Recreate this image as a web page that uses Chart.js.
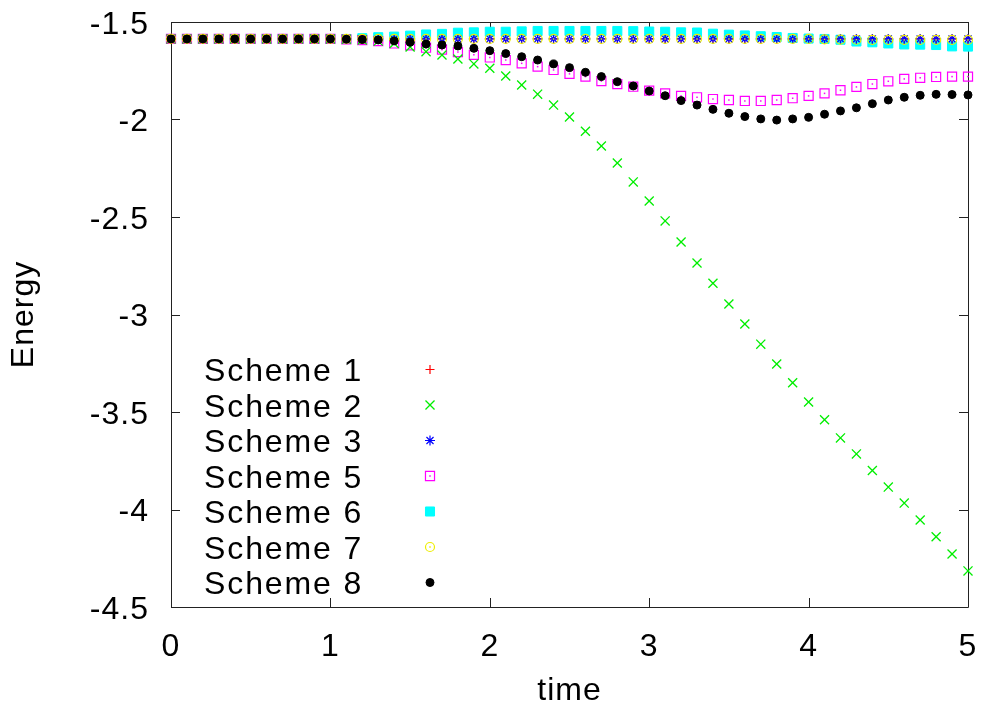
<!DOCTYPE html>
<html>
<head>
<meta charset="utf-8">
<script src="https://cdn.jsdelivr.net/npm/chart.js@4/dist/chart.umd.min.js"></script>
<style>
  html, body { margin: 0; padding: 0; background: #fff; }
  canvas { display: block; }
</style>
</head>
<body>
<canvas id="energy-chart" width="987" height="711"></canvas>
<script>
// time samples (x) for every scheme
const time = [
  0, 0.1, 0.2, 0.3, 0.4, 0.5, 0.6, 0.7, 0.8, 0.9,
  1, 1.1, 1.2, 1.3, 1.4, 1.5, 1.6, 1.7, 1.8, 1.9,
  2, 2.1, 2.2, 2.3, 2.4, 2.5, 2.6, 2.7, 2.8, 2.9,
  3, 3.1, 3.2, 3.3, 3.4, 3.5, 3.6, 3.7, 3.8, 3.9,
  4, 4.1, 4.2, 4.3, 4.4, 4.5, 4.6, 4.7, 4.8, 4.9,
  5
];

const scheme1 = [
  -1.587, -1.587, -1.587, -1.587, -1.587, -1.587, -1.587, -1.587, -1.587, -1.587,
  -1.587, -1.587, -1.587, -1.587, -1.587, -1.587, -1.587, -1.587, -1.587, -1.587,
  -1.587, -1.587, -1.587, -1.587, -1.587, -1.587, -1.587, -1.587, -1.587, -1.587,
  -1.587, -1.587, -1.587, -1.587, -1.587, -1.587, -1.587, -1.587, -1.587, -1.587,
  -1.587, -1.587, -1.587, -1.587, -1.587, -1.587, -1.587, -1.587, -1.587, -1.587,
  -1.587
];

const scheme2 = [
  -1.587, -1.587, -1.587, -1.587, -1.587, -1.587, -1.587, -1.587, -1.587, -1.587,
  -1.587, -1.588, -1.592, -1.598, -1.610, -1.628, -1.652, -1.669, -1.690, -1.715,
  -1.737, -1.777, -1.823, -1.870, -1.926, -1.987, -2.060, -2.136, -2.223, -2.320,
  -2.418, -2.520, -2.628, -2.736, -2.840, -2.946, -3.049, -3.152, -3.254, -3.350,
  -3.449, -3.540, -3.633, -3.715, -3.800, -3.885, -3.967, -4.054, -4.140, -4.228,
  -4.315
];

const scheme3 = [
  -1.587, -1.587, -1.587, -1.587, -1.587, -1.587, -1.587, -1.587, -1.587, -1.587,
  -1.587, -1.587, -1.587, -1.587, -1.587, -1.587, -1.587, -1.587, -1.587, -1.587,
  -1.587, -1.587, -1.587, -1.587, -1.587, -1.587, -1.587, -1.587, -1.587, -1.587,
  -1.587, -1.587, -1.587, -1.587, -1.587, -1.587, -1.587, -1.587, -1.587, -1.587,
  -1.587, -1.587, -1.587, -1.587, -1.587, -1.587, -1.587, -1.587, -1.587, -1.587,
  -1.587
];

const scheme5 = [
  -1.587, -1.587, -1.587, -1.587, -1.587, -1.587, -1.587, -1.587, -1.587, -1.587,
  -1.587, -1.589, -1.593, -1.598, -1.610, -1.620, -1.632, -1.642, -1.654, -1.668,
  -1.682, -1.695, -1.712, -1.729, -1.746, -1.766, -1.780, -1.803, -1.818, -1.832,
  -1.852, -1.866, -1.879, -1.886, -1.895, -1.900, -1.905, -1.905, -1.900, -1.891,
  -1.879, -1.866, -1.850, -1.833, -1.818, -1.804, -1.792, -1.786, -1.782, -1.780,
  -1.780
];

const scheme6 = [
  -1.587, -1.587, -1.587, -1.587, -1.587, -1.587, -1.587, -1.587, -1.587, -1.587,
  -1.587, -1.587, -1.583, -1.578, -1.575, -1.570, -1.564, -1.561, -1.555, -1.553,
  -1.550, -1.550, -1.548, -1.546, -1.546, -1.546, -1.546, -1.546, -1.546, -1.547,
  -1.549, -1.550, -1.553, -1.554, -1.560, -1.565, -1.569, -1.573, -1.577, -1.582,
  -1.585, -1.587, -1.591, -1.600, -1.604, -1.610, -1.615, -1.616, -1.618, -1.625,
  -1.626
];

const scheme7 = [
  -1.587, -1.587, -1.587, -1.587, -1.587, -1.587, -1.587, -1.587, -1.587, -1.587,
  -1.587, -1.587, -1.587, -1.587, -1.587, -1.587, -1.587, -1.587, -1.587, -1.587,
  -1.587, -1.587, -1.587, -1.587, -1.587, -1.587, -1.587, -1.587, -1.587, -1.587,
  -1.587, -1.587, -1.587, -1.587, -1.587, -1.587, -1.587, -1.587, -1.587, -1.587,
  -1.587, -1.589, -1.590, -1.591, -1.592, -1.592, -1.592, -1.592, -1.592, -1.592,
  -1.592
];

const scheme8 = [
  -1.587, -1.587, -1.587, -1.587, -1.587, -1.587, -1.587, -1.587, -1.587, -1.587,
  -1.587, -1.588, -1.590, -1.592, -1.597, -1.604, -1.613, -1.618, -1.623, -1.635,
  -1.647, -1.662, -1.678, -1.695, -1.715, -1.734, -1.758, -1.780, -1.806, -1.828,
  -1.854, -1.878, -1.903, -1.926, -1.948, -1.968, -1.985, -1.997, -2.003, -1.997,
  -1.989, -1.973, -1.956, -1.940, -1.919, -1.900, -1.886, -1.876, -1.871, -1.872,
  -1.874
];

const xTicks = [0, 1, 2, 3, 4, 5];
const yTicks = [-4.5, -4, -3.5, -3, -2.5, -2, -1.5];

const FONT = '"Liberation Sans", Arial, Helvetica, sans-serif';
Chart.defaults.font.family = FONT;
Chart.defaults.font.size = 32;
Chart.defaults.color = '#000';

function pts(values) {
    return time.map((t, i) => ({ x: t, y: values[i] }));
}

// lower order is drawn on top
const datasets = [
    { label: 'Scheme 1', data: pts(scheme1), pointStyle: 'cross', pointRadius: 4.5,
      borderColor: '#ff0000', backgroundColor: 'rgba(0,0,0,0)', borderWidth: 1.2, order: 3 },
    { label: 'Scheme 2', data: pts(scheme2), pointStyle: 'crossRot', pointRadius: 6.4,
      borderColor: '#00ee00', backgroundColor: 'rgba(0,0,0,0)', borderWidth: 1.3, order: 4 },
    { label: 'Scheme 3', data: pts(scheme3), pointStyle: 'star', pointRadius: 5,
      borderColor: '#0000ff', backgroundColor: 'rgba(0,0,0,0)', borderWidth: 1.2, order: 2 },
    { label: 'Scheme 5', data: pts(scheme5), pointStyle: 'rect', pointRadius: 6.4,
      borderColor: '#ff00ff', backgroundColor: 'rgba(0,0,0,0)', borderWidth: 1.2, order: 5, centerDot: true },
    { label: 'Scheme 6', data: pts(scheme6), pointStyle: 'rect', pointRadius: 6.4,
      borderColor: '#00ffff', backgroundColor: '#00ffff', borderWidth: 1, order: 6 },
    { label: 'Scheme 7', data: pts(scheme7), pointStyle: 'circle', pointRadius: 4.5,
      borderColor: '#eeee00', backgroundColor: 'rgba(0,0,0,0)', borderWidth: 1.2, order: 1, centerDot: true },
    { label: 'Scheme 8', data: pts(scheme8), pointStyle: 'circle', pointRadius: 4,
      borderColor: '#000000', backgroundColor: '#000000', borderWidth: 1, order: 0 }
];
datasets.forEach(ds => { ds.clip = false; ds.showLine = false; });

// gnuplot style box with inward ticks on all four sides
const frame = {
    id: 'frame',
    beforeDatasetsDraw(chart) {
        const { ctx, chartArea: a, scales: { x, y } } = chart;
        const L = 9;
        ctx.save();
        ctx.strokeStyle = '#222';
        ctx.lineWidth = 1;
        ctx.beginPath();
        ctx.rect(Math.round(a.left) + 0.5, Math.round(a.top) + 0.5,
                 Math.round(a.right - a.left), Math.round(a.bottom - a.top));
        xTicks.forEach(v => {
            const px = Math.round(x.getPixelForValue(v)) + 0.5;
            ctx.moveTo(px, a.bottom); ctx.lineTo(px, a.bottom - L);
            ctx.moveTo(px, a.top); ctx.lineTo(px, a.top + L);
        });
        yTicks.forEach(v => {
            const py = Math.round(y.getPixelForValue(v)) + 0.5;
            ctx.moveTo(a.left, py); ctx.lineTo(a.left + L, py);
            ctx.moveTo(a.right, py); ctx.lineTo(a.right - L, py);
        });
        ctx.stroke();
        ctx.restore();
    }
};

// small dot in the middle of open squares / circles
const centerDots = {
    id: 'centerDots',
    afterDatasetDraw(chart, args) {
        const ds = chart.data.datasets[args.index];
        if (!ds.centerDot) return;
        const ctx = chart.ctx;
        ctx.save();
        ctx.fillStyle = ds.borderColor;
        args.meta.data.forEach(p => ctx.fillRect(p.x - 0.75, p.y - 0.75, 1.5, 1.5));
        ctx.restore();
    }
};

function marker(ctx, ds, x, y) {
    ctx.save();
    ctx.strokeStyle = ds.borderColor;
    ctx.fillStyle = ds.backgroundColor;
    ctx.lineWidth = ds.borderWidth;
    if (Chart.helpers && Chart.helpers.drawPoint) {
        Chart.helpers.drawPoint(ctx, { pointStyle: ds.pointStyle, radius: ds.pointRadius,
            borderWidth: ds.borderWidth, rotation: 0 }, x, y);
    } else {
        ctx.beginPath();
        ctx.arc(x, y, ds.pointRadius, 0, Math.PI * 2);
        ctx.fill();
        ctx.stroke();
    }
    if (ds.centerDot) {
        ctx.fillStyle = ds.borderColor;
        ctx.fillRect(x - 0.75, y - 0.75, 1.5, 1.5);
    }
    ctx.restore();
}

// key inside the plot, bottom left: text then sample
const key = {
    id: 'key',
    afterDraw(chart) {
        const ctx = chart.ctx;
        ctx.save();
        ctx.font = '32px ' + FONT;
        ctx.fillStyle = '#000';
        ctx.textAlign = 'left';
        ctx.textBaseline = 'alphabetic';
        ctx.letterSpacing = '1.9px';
        chart.data.datasets.forEach((ds, i) => {
            const cy = 369.5 + i * 35.5;
            ctx.fillText(ds.label, 204, cy + 11.5);
            marker(ctx, ds, 430, cy);
        });
        ctx.restore();
    }
};

const spacing = {
    id: 'spacing',
    beforeDraw(chart) { chart.ctx.letterSpacing = '1px'; }
};

// fixed axis boxes so the plot area lands where the reference has it
function fitX(s) {
    s.height = 104;
    s.paddingLeft = 0; s.paddingRight = 0;
}
function fitY(s) {
    s.width = 171;
    s.paddingTop = 0; s.paddingBottom = 0;
}

const ctx = document.getElementById('energy-chart').getContext('2d');
new Chart(ctx, {
    type: 'scatter',
    data: { datasets: datasets },
    options: {
        responsive: false,
        animation: false,
        layout: { padding: { top: 22, right: 19, left: 0, bottom: 0 } },
        plugins: { legend: { display: false }, tooltip: { enabled: false } },
        scales: {
            x: {
                type: 'linear', min: 0, max: 5,
                afterFit: fitX,
                afterBuildTicks: s => { s.ticks = xTicks.map(v => ({ value: v })); },
                ticks: { padding: 21, maxRotation: 0, autoSkip: false, callback: v => String(v) },
                grid: { display: false, drawTicks: false },
                border: { display: false },
                title: { display: true, text: 'time', padding: { top: 0, bottom: 1 } }
            },
            y: {
                type: 'linear', min: -4.5, max: -1.5,
                afterFit: fitY,
                afterBuildTicks: s => { s.ticks = yTicks.map(v => ({ value: v })); },
                ticks: { padding: 22, labelOffset: 3, autoSkip: false, callback: v => String(v) },
                grid: { display: false, drawTicks: false },
                border: { display: false },
                title: { display: true, text: 'Energy', padding: { top: 5, bottom: 0 } }
            }
        }
    },
    plugins: [spacing, frame, centerDots, key]
});
</script>
</body>
</html>
